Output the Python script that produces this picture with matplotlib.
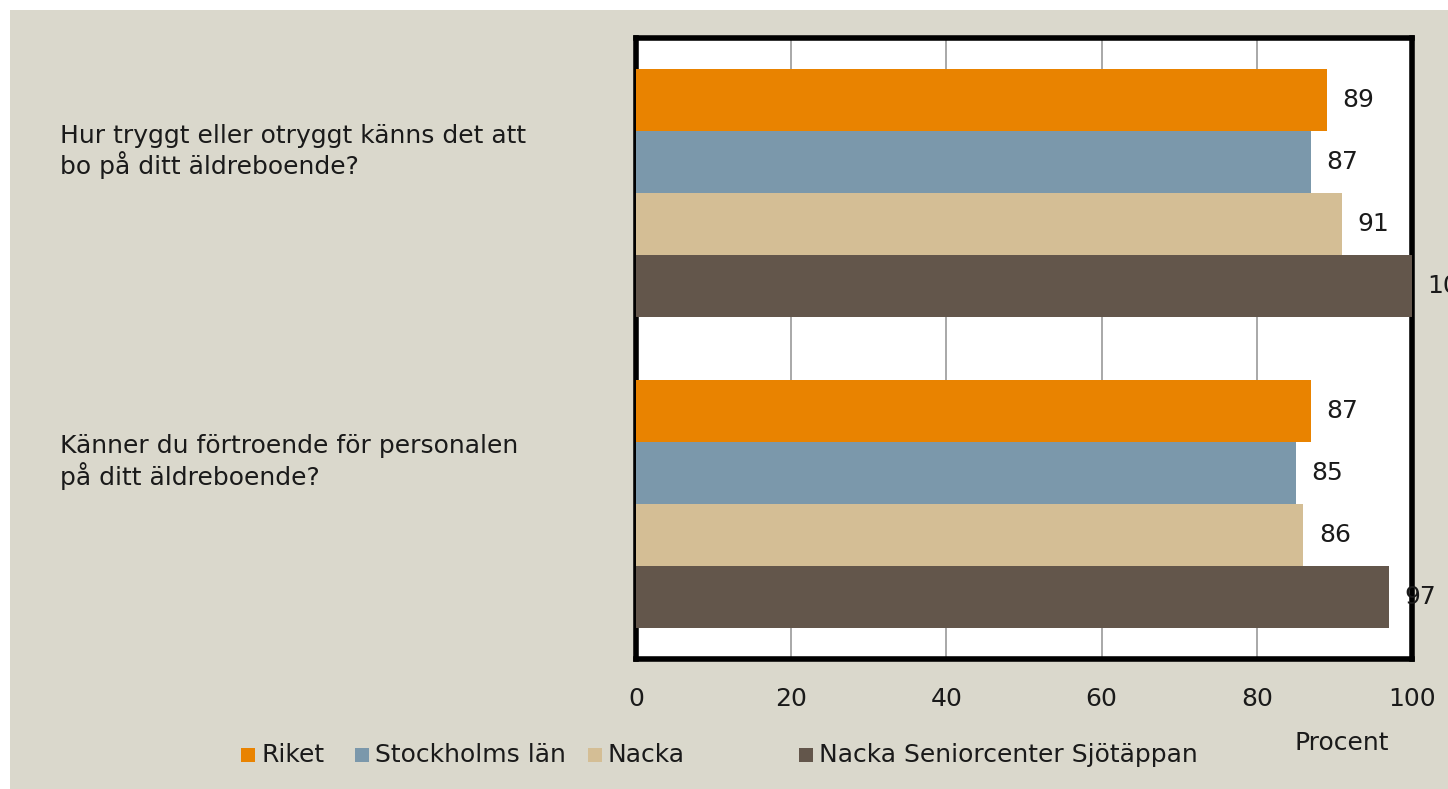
import numpy as np
import matplotlib
matplotlib.use("Agg")
from matplotlib import pyplot as plt
from matplotlib.patches import Rectangle
from matplotlib import transforms

# data
questions = ["Hur tryggt eller otryggt känns det att\nbo på ditt äldreboende?",
             "Känner du förtroende för personalen\npå ditt äldreboende?"]
series = ["Riket", "Stockholms län", "Nacka", "Nacka Seniorcenter Sjötäppan"]
riket = [89, 87]
stockholm = [87, 85]
nacka = [91, 86]
sjotappan = [100, 97]
xticks = [0, 20, 40, 60, 80, 100]

colors = ["#E98300", "#7B98AB", "#D4BE95", "#63564B"]
bg = "#DAD8CC"
tc = "#1a1a1a"

plt.rcParams['font.family'] = ['DejaVu Sans']
fs = 18

W, H = 1448, 789
fig = plt.figure(figsize=(W/100, H/100), dpi=100, facecolor="white")
fig.patches.append(Rectangle((10/W, 0), 1 - 10/W, 1 - 10/H,
                             transform=fig.transFigure, facecolor=bg,
                             edgecolor="none", zorder=-10))

ax = fig.add_axes([636/W, 1 - 659/H, (1412 - 636)/W, (659 - 38)/H])
ax.set_facecolor("white")

vals = [riket, stockholm, nacka, sjotappan]
h = 0.2
y = np.arange(len(questions))
for i, v in enumerate(vals):
    pos = y - 0.3 + i * h
    ax.barh(pos, v, height=h, color=colors[i], zorder=3)
    for p, val in zip(pos, v):
        ax.text(val + 2.0, p, str(val), va="center", ha="left", fontsize=fs,
                color=tc, zorder=4, clip_on=False)

ax.set_xlim(0, 100)
ax.set_ylim(-0.5, 1.5)
ax.invert_yaxis()
ax.set_yticks([])
ax.set_xticks(xticks)
ax.set_xticklabels([str(t) for t in xticks], fontsize=fs, color=tc)
ax.tick_params(axis="x", length=0, pad=20)
ax.grid(axis="x", color="#9a9a9a", linewidth=1.2, zorder=0)
for s in ax.spines.values():
    s.set_linewidth(4)
    s.set_color("black")

trans = transforms.blended_transform_factory(fig.transFigure, ax.transData)
for i, q in enumerate(questions):
    ax.text(60/W, i - 0.135, q, transform=trans, ha="left", va="center",
            fontsize=fs, color=tc, linespacing=1.15)

fig.text(1342/W, 1 - 743/H, "Procent", ha="center", va="center",
         fontsize=fs, color=tc)

# legend, laid out by hand like the original
leg_x = [241, 355, 588, 799]
leg_y = 755
for x0, name, c in zip(leg_x, series, colors):
    fig.patches.append(Rectangle((x0/W, 1 - (leg_y + 7)/H), 14/W, 14/H,
                                 transform=fig.transFigure, facecolor=c,
                                 edgecolor="none"))
    fig.text((x0 + 20)/W, 1 - leg_y/H, name, ha="left", va="center",
             fontsize=fs, color=tc)

fig.savefig("out.png", dpi=100, facecolor=fig.get_facecolor())
